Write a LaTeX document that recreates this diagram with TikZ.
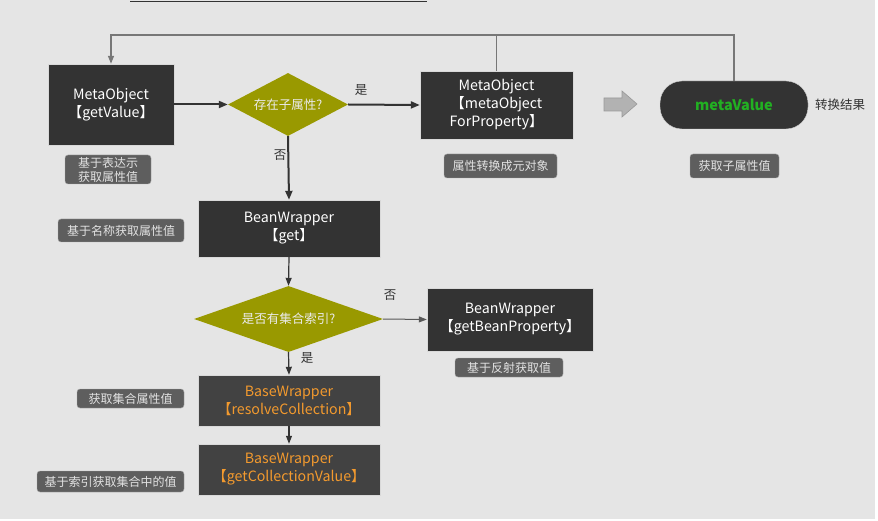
\documentclass[tikz,border=0pt]{standalone}
\usepackage{fontspec}
\setmainfont{Noto Sans CJK SC}
\usetikzlibrary{arrows.meta,shapes.geometric}
\definecolor{bg}{HTML}{E5E5E5}
\definecolor{boxdark}{HTML}{333333}
\definecolor{boxmid}{HTML}{424242}
\definecolor{olive}{HTML}{999900}
\definecolor{capfill}{HTML}{5E5E5E}
\definecolor{captxt}{HTML}{E2E2E2}
\definecolor{orangetxt}{HTML}{F39A2E}
\definecolor{greentxt}{HTML}{22B022}
\definecolor{linedark}{HTML}{333333}
\definecolor{loopgray}{HTML}{777777}
\begin{document}
\begin{tikzpicture}[x=1pt,y=-1pt,
  boxtext/.style={font=\fontsize{14.2}{18}\selectfont, text=white, align=center},
  darkbox/.style={boxtext, rectangle, fill=boxdark, draw=white!85!black, line width=0.4pt, inner sep=0pt},
  midbox/.style={rectangle, fill=boxmid, draw=white!85!black, line width=0.4pt, inner sep=0pt, align=center,
     font=\fontsize{14.2}{18}\selectfont, text=orangetxt},
  decision/.style={diamond, fill=olive, inner sep=0pt, text=white!92!black, font=\fontsize{12.5}{14}\selectfont},
  caption/.style={rectangle, rounded corners=3pt, fill=capfill, draw=gray!70, line width=0.4pt, inner sep=0pt,
     text=captxt, font=\fontsize{12}{15}\selectfont, align=center},
  lbl/.style={text=black!80, font=\fontsize{12.5}{14}\selectfont, inner sep=0pt},
  flow/.style={draw=linedark, -{Triangle[length=9pt,width=7pt]}},
  loopline/.style={draw=loopgray, line width=1.3pt}
]
\useasboundingbox (0,0) rectangle (878,521);
\fill[white] (0,0) rectangle (878,521);
\fill[bg] (0,0) rectangle (875,519);
\draw[linedark, line width=1.5pt] (130,1.5) -- (427,1.5);

% main nodes
\node[darkbox, minimum width=126pt, minimum height=81pt] (gv) at (111,104.5) {MetaObject\\【getValue】};
\node[decision, aspect=1.9, minimum width=120pt, minimum height=63pt] (d1) at (288,104.5) {存在子属性?};
\node[darkbox, minimum width=153pt, minimum height=68pt] (mop) at (496.5,105) {MetaObject\\【metaObject\\ForProperty】};
\node[rectangle, rounded corners=22pt, fill=boxdark, draw=white!85!black, line width=0.4pt, minimum width=148pt, minimum height=48pt,
      text=greentxt, font=\fontsize{14.5}{16}\selectfont\bfseries] (mv) at (734,105) {metaValue};
\node[lbl, anchor=west] (res) at (815,105) {转换结果};

\node[darkbox, minimum width=182pt, minimum height=57pt] (bw) at (289,228.5) {BeanWrapper\\【get】};
\node[decision, aspect=2.86, minimum width=189pt, minimum height=66pt] (d2) at (288.5,319) {是否有集合索引?};
\node[darkbox, minimum width=166pt, minimum height=63pt] (bgp) at (510,319.5) {BeanWrapper\\【getBeanProperty】};
\node[midbox, minimum width=182pt, minimum height=51pt] (rc) at (289,400.5) {BaseWrapper\\【resolveCollection】};
\node[midbox, minimum width=182pt, minimum height=51pt] (gcv) at (289,469.5) {BaseWrapper\\【getCollectionValue】};

% captions
\node[caption, minimum width=86pt, minimum height=29pt, font=\fontsize{12}{14}\selectfont] (c1) at (108,169.5) {基于表达示\\获取属性值};
\node[caption, minimum width=113pt, minimum height=24pt] (c2) at (500.5,166) {属性转换成元对象};
\node[caption, minimum width=89pt, minimum height=24pt] (c3) at (734.5,166) {获取子属性值};
\node[caption, minimum width=126pt, minimum height=23pt] (c4) at (121,230.5) {基于名称获取属性值};
\node[caption, minimum width=108pt, minimum height=19pt] (c5) at (509,367.5) {基于反射获取值};
\node[caption, minimum width=107pt, minimum height=19pt] (c6) at (130.5,398.5) {获取集合属性值};
\node[caption, minimum width=147pt, minimum height=21pt] (c7) at (110.5,481.5) {基于索引获取集合中的值};

% labels
\node[lbl] (y1) at (361,90) {是};
\node[lbl] (n1) at (280,155) {否};
\node[lbl] (n2) at (390,295) {否};
\node[lbl] (y2) at (307,358) {是};

% connectors
\draw[flow, line width=2pt] (gv.east) -- (d1.west);
\draw[flow, line width=2pt] (d1.east) -- (mop.west);
\draw[flow, line width=2pt] (d1.south) -- (bw.north);
\draw[flow, line width=1.2pt, -{Triangle[length=8pt,width=6pt]}] (bw.south) -- (d2.north);
\draw[flow, draw=black!65, line width=1pt, -{Triangle[length=8pt,width=6pt]}] (d2.east) -- (bgp.west);
\draw[flow, line width=1.2pt, -{Triangle[length=8pt,width=6pt]}] (d2.south) -- (rc.north);
\draw[flow, line width=1.2pt, -{Triangle[length=8pt,width=6pt]}] (rc.south) -- (gcv.north);

% loop back line
\coordinate (top) at (0,35);
\draw[loopline, -{Triangle[length=8pt,width=6pt]}] (mv.north) |- (top -| gv.north) -- (gv.north);
\draw[loopline] (mop.north) -- (mop.north |- top);

% block arrow
\draw[fill=black!30, draw=black!40, line width=0.6pt]
  (604,98) -- (622,98) -- (622,91) -- (637,104) -- (622,117) -- (622,111) -- (604,111) -- cycle;
\end{tikzpicture}
\end{document}
